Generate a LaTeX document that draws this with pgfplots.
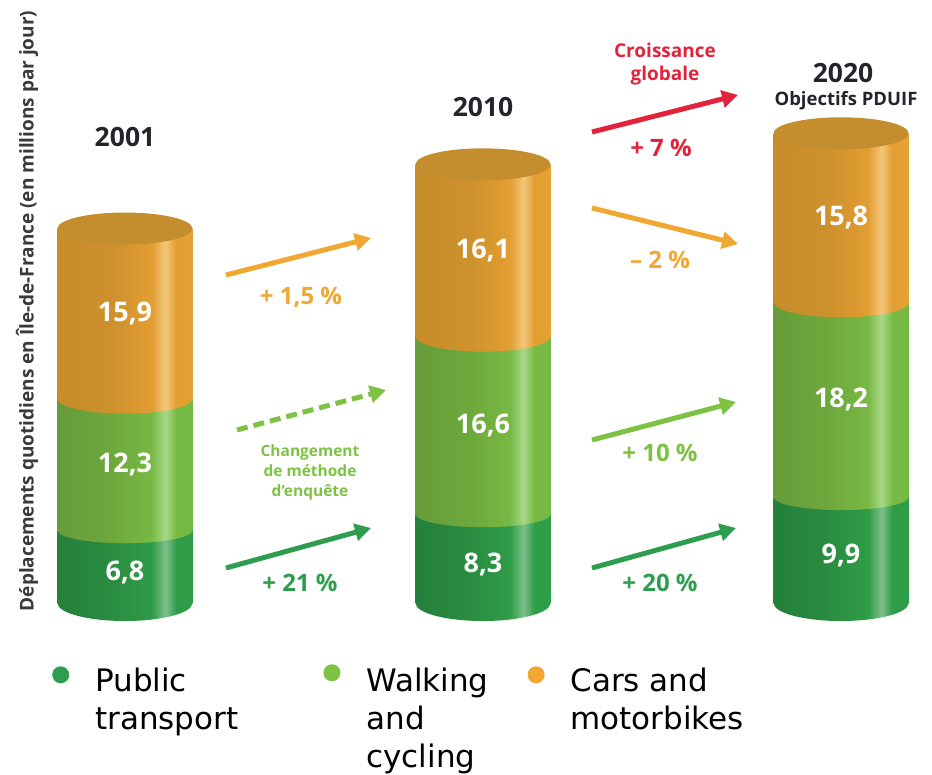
\documentclass[border=0pt]{standalone}
\usepackage{fontspec}
\setmainfont{Open Sans}
\newfontfamily\legfont{DejaVu Sans}
\usepackage{pgfplots}
\pgfplotsset{compat=1.18}
\usetikzlibrary{arrows.meta}

% cylinder colours
\definecolor{dkA}{HTML}{24803A}
\definecolor{dkB}{HTML}{2A8C40}
\definecolor{dkC}{HTML}{2F9C48}
\definecolor{dkH}{HTML}{7EC08A}
\definecolor{dkD}{HTML}{2E9E48}
\definecolor{lgA}{HTML}{679C3A}
\definecolor{lgB}{HTML}{6DA83C}
\definecolor{lgC}{HTML}{78B944}
\definecolor{lgH}{HTML}{A8D888}
\definecolor{lgD}{HTML}{74BA42}
\definecolor{orA}{HTML}{C78C2B}
\definecolor{orB}{HTML}{CD912D}
\definecolor{orC}{HTML}{E29E32}
\definecolor{orH}{HTML}{F4C67A}
\definecolor{orD}{HTML}{E6A232}
\definecolor{topO}{HTML}{C48E2E}
% annotation colours
\definecolor{redA}{HTML}{E2233C}
\definecolor{orT}{HTML}{F0A832}
\definecolor{lgT}{HTML}{7DC242}
\definecolor{dkT}{HTML}{2E9E4E}
\definecolor{ink}{HTML}{24242C}
\definecolor{ylab}{HTML}{3A3A3A}

\pgfdeclarehorizontalshading{dkcyl}{100bp}{color(0bp)=(dkA); color(25bp)=(dkA); color(45bp)=(dkB); color(60bp)=(dkC); color(65bp)=(dkH); color(69bp)=(dkC); color(75bp)=(dkD); color(100bp)=(dkD)}
\pgfdeclarehorizontalshading{lgcyl}{100bp}{color(0bp)=(lgA); color(25bp)=(lgA); color(45bp)=(lgB); color(60bp)=(lgC); color(65bp)=(lgH); color(69bp)=(lgC); color(75bp)=(lgD); color(100bp)=(lgD)}
\pgfdeclarehorizontalshading{orcyl}{100bp}{color(0bp)=(orA); color(25bp)=(orA); color(45bp)=(orB); color(60bp)=(orC); color(65bp)=(orH); color(69bp)=(orC); color(75bp)=(orD); color(100bp)=(orD)}

% lower half ellipses (segment bottoms, a little above the seam) and top ellipse
\newcommand\lowhalf[2]{\pgfpathmoveto{\pgfqpoint{-67.5pt}{1.5pt}}\pgfpathlineto{\pgfqpoint{-67.5pt}{0pt}}%
  \pgfpatharc{180}{360}{67.5pt and #2}\pgfpathlineto{\pgfqpoint{67.5pt}{1.5pt}}\pgfpathclose
  \pgfshadepath{#1}{0}\pgfusepath{}}
\pgfdeclareplotmark{lowD}{\lowhalf{dkcyl}{18pt}}
\pgfdeclareplotmark{lowL}{\lowhalf{lgcyl}{13pt}}
\pgfdeclareplotmark{lowO}{\lowhalf{orcyl}{15pt}}
\pgfdeclareplotmark{topO}{\pgfpathellipse{\pgfpointorigin}{\pgfqpoint{67.5pt}{0pt}}{\pgfqpoint{0pt}{16pt}}\pgfusepath{fill}}

% flat legend dot
\newcommand\legdot[2]{\pgfsetfillcolor{#1}\pgfpathcircle{\pgfqpoint{8pt}{#2}}{8.5pt}\pgfusepath{fill}}

\pgfplotsset{
  cylaxis/.style={scale only axis, width=932pt, height=774pt,
    xmin=-0.349, xmax=2.254, ymin=-15.98, ymax=56.36,
    enlargelimits=false, hide axis, clip=false},
  baraxis/.style={cylaxis, ybar stacked, bar width=135pt},
  dkbar/.style={draw=none, shade, shading=dkcyl, shading angle=0},
  lgbar/.style={draw=none, shade, shading=lgcyl, shading angle=0},
  orbar/.style={draw=none, shade, shading=orcyl, shading angle=0},
}

\begin{document}
\begin{tikzpicture}
\useasboundingbox (0,0) rectangle (932pt,774pt);
% 2001 (carries the legend)
\begin{axis}[baraxis,
  legend columns=3,
  legend style={draw=none, fill=none, inner sep=0pt, at={(0.0558,0.142)}, anchor=north west,
    font=\legfont\fontsize{31}{38}\selectfont,
    cells={anchor=north west, align=left, inner sep=0pt},
    /tikz/every odd column/.append style={column sep=24pt},
    /tikz/every even column/.append style={column sep=37pt}},
]
\addplot[dkbar, legend image code/.code={\legdot{dkT}{-9pt}}]
  coordinates {(0,6.8)};
\addlegendentry{Public\\transport\hspace*{46pt}}
\addplot[lgbar, legend image code/.code={\legdot{lgT}{-7pt}}]
  coordinates {(0,12.3)};
\addlegendentry{Walking\\and\\cycling}
\addplot[orbar, legend image code/.code={\legdot{orT}{-9pt}}]
  coordinates {(0,15.9)};
\addlegendentry{Cars and\\motorbikes}
\end{axis}
% 2010
\begin{axis}[baraxis]
\addplot[dkbar] coordinates {(1,8.3)};
\addplot[lgbar] coordinates {(1,16.6)};
\addplot[orbar] coordinates {(1,16.1)};
\end{axis}
% 2020
\begin{axis}[baraxis]
\addplot[dkbar] coordinates {(2,9.9)};
\addplot[lgbar] coordinates {(2,18.2)};
\addplot[orbar] coordinates {(2,15.8)};
\end{axis}

% rounded bottoms and tops of the cylinders
\begin{axis}[cylaxis]
\addplot[only marks, mark=lowD] coordinates {(0,0) (1,0) (2,0)};
\addplot[only marks, mark=lowL] coordinates {(0,6.8) (1,8.3) (2,9.9)};
\addplot[only marks, mark=lowO] coordinates {(0,19.1) (1,24.9) (2,28.1)};
\addplot[only marks, mark=topO, mark options={fill=topO, draw=none}]
  coordinates {(0,35.0) (1,41.0) (2,43.9)};
% values inside the cylinders
\begin{scope}[every node/.style={text=white, font=\bfseries\fontsize{27}{30}\selectfont}]
\node at (axis cs:0,2.9) {6,8};
\node at (axis cs:0,12.95) {12,3};
\node at (axis cs:0,27.05) {15,9};
\node at (axis cs:1,3.6) {8,3};
\node at (axis cs:1,16.6) {16,6};
\node at (axis cs:1,32.95) {16,1};
\node at (axis cs:2,4.4) {9,9};
\node at (axis cs:2,19.0) {18,2};
\node at (axis cs:2,36.0) {15,8};
\end{scope}
\end{axis}

% annotations, in picture pixels measured from the top left
\begin{scope}[shift={(0pt,774pt)}, x=1pt, y=-1pt]
\node[rotate=90, text=ylab, font=\bfseries\fontsize{19}{21}\selectfont] at (27,311)
  {Déplacements quotidiens en Île-de-France (en millions par jour)};
\node[text=ink, font=\bfseries\fontsize{26.5}{28}\selectfont] at (125,137) {2001};
\node[text=ink, font=\bfseries\fontsize{26.5}{28}\selectfont] at (483,107) {2010};
\node[text=ink, font=\bfseries\fontsize{26.5}{28}\selectfont] at (843,73) {2020};
\node[text=ink, font=\bfseries\fontsize{18.5}{21}\selectfont] at (846,101) {Objectifs PDUIF};
\node[text=redA, align=center, font=\bfseries\fontsize{19}{23}\selectfont] at (665,64) {Croissance\\globale};

\tikzset{arr/.style={line width=5pt, -{Triangle[length=16pt, width=17pt]}}}
\draw[arr, redA] (592,132) -- (738,95);
\draw[arr, orT] (226,275) -- (371,238);
\draw[arr, orT] (592,208) -- (738,244);
\draw[arr, lgT, dash pattern=on 11pt off 6pt] (237,430) -- (386,390);
\draw[arr, lgT] (592,440) -- (736,402);
\draw[arr, dkT] (226,568) -- (371,528);
\draw[arr, dkT] (592,568) -- (736,528);

\begin{scope}[every node/.style={font=\bfseries\fontsize{24}{26}\selectfont}]
\node[text=redA] at (661,148) {+ 7 \%};
\node[text=orT] at (301,297) {+ 1,5 \%};
\node[text=orT] at (660,260) {– 2 \%};
\node[text=lgT] at (660,453) {+ 10 \%};
\node[text=dkT] at (300,583) {+ 21 \%};
\node[text=dkT] at (660,583) {+ 20 \%};
\end{scope}
\node[text=lgT, align=center, font=\bfseries\fontsize{15.5}{20}\selectfont] at (310,472)
  {Changement\\de méthode\\d'enquête};
\end{scope}
\end{tikzpicture}
\end{document}
